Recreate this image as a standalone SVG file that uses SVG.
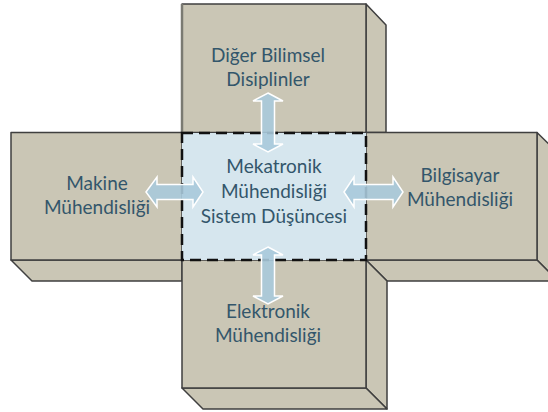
<svg xmlns="http://www.w3.org/2000/svg" width="548" height="412" viewBox="0 0 548 412">
<style>
.face{fill:#cac6b5;stroke:#3f3f3f;stroke-width:1.5;stroke-linejoin:round}
.center{fill:#d6e6ee;stroke:#111;stroke-width:2.5;stroke-dasharray:11 6}
.arr{fill:#a9c9da;fill-opacity:0.9;stroke:#ffffff;stroke-width:1.5;stroke-linejoin:miter}
.lbl{font-family:Lato,"Noto Sans",sans-serif;font-size:19px;fill:#33566b;text-anchor:middle}
</style>
<rect width="548" height="412" fill="#ffffff"/>
<g id="top-box">
<polygon class="face" points="366,4 386,25 386,132.5 366,132.5"/>
<rect class="face" x="182" y="4" width="184" height="128.5"/>
<line x1="182" y1="4" x2="182" y2="132.5" stroke="#7a7a72" stroke-width="2.5"/>
<text class="lbl" x="268" y="62">Diğer Bilimsel</text>
<text class="lbl" x="268" y="86">Disiplinler</text>
</g>
<g id="left-box">
<polygon class="face" points="11,260 32,281 182,281 182,260"/>
<rect class="face" x="11" y="132.5" width="171" height="127.5"/>
<text class="lbl" x="97" y="190">Makine</text>
<text class="lbl" x="97" y="214">Mühendisliği</text>
</g>
<g id="right-box">
<polygon class="face" points="537,132.5 558,153 558,281 537,260"/>
<polygon class="face" points="366,260 387,281 558,281 537,260"/>
<rect class="face" x="366" y="132.5" width="171" height="127.5"/>
<text class="lbl" x="460" y="182">Bilgisayar</text>
<text class="lbl" x="460" y="206">Mühendisliği</text>
</g>
<g id="bottom-box">
<polygon class="face" points="366,260 387,281 387,409 366,388"/>
<polygon class="face" points="182,388 203,409 387,409 366,388"/>
<rect class="face" x="182" y="260" width="184" height="128"/>
<text class="lbl" x="268" y="318">Elektronik</text>
<text class="lbl" x="268" y="342">Mühendisliği</text>
</g>
<g id="center-box">
<rect class="center" x="182" y="133" width="184" height="127"/>
<text class="lbl" x="274" y="173">Mekatronik</text>
<text class="lbl" x="274" y="198">Mühendisliği</text>
<text class="lbl" x="274" y="223">Sistem Düşüncesi</text>
</g>
<g id="connectors">
<polygon class="arr" points="268,93 283,101 274.5,101 274.5,144 283,144 268,152 253,144 261.5,144 261.5,101 253,101"/>
<polygon class="arr" points="268,247 283,255 274.5,255 274.5,296 283,296 268,304 253,296 261.5,296 261.5,255 253,255"/>
<polygon class="arr" points="146,192 157,177 157,184.5 193,184.5 193,177 203,192 193,207 193,199.5 157,199.5 157,207"/>
<polygon class="arr" points="344,192 354,177 354,184.5 393,184.5 393,177 403,192 393,207 393,199.5 354,199.5 354,207"/>
</g>
</svg>
